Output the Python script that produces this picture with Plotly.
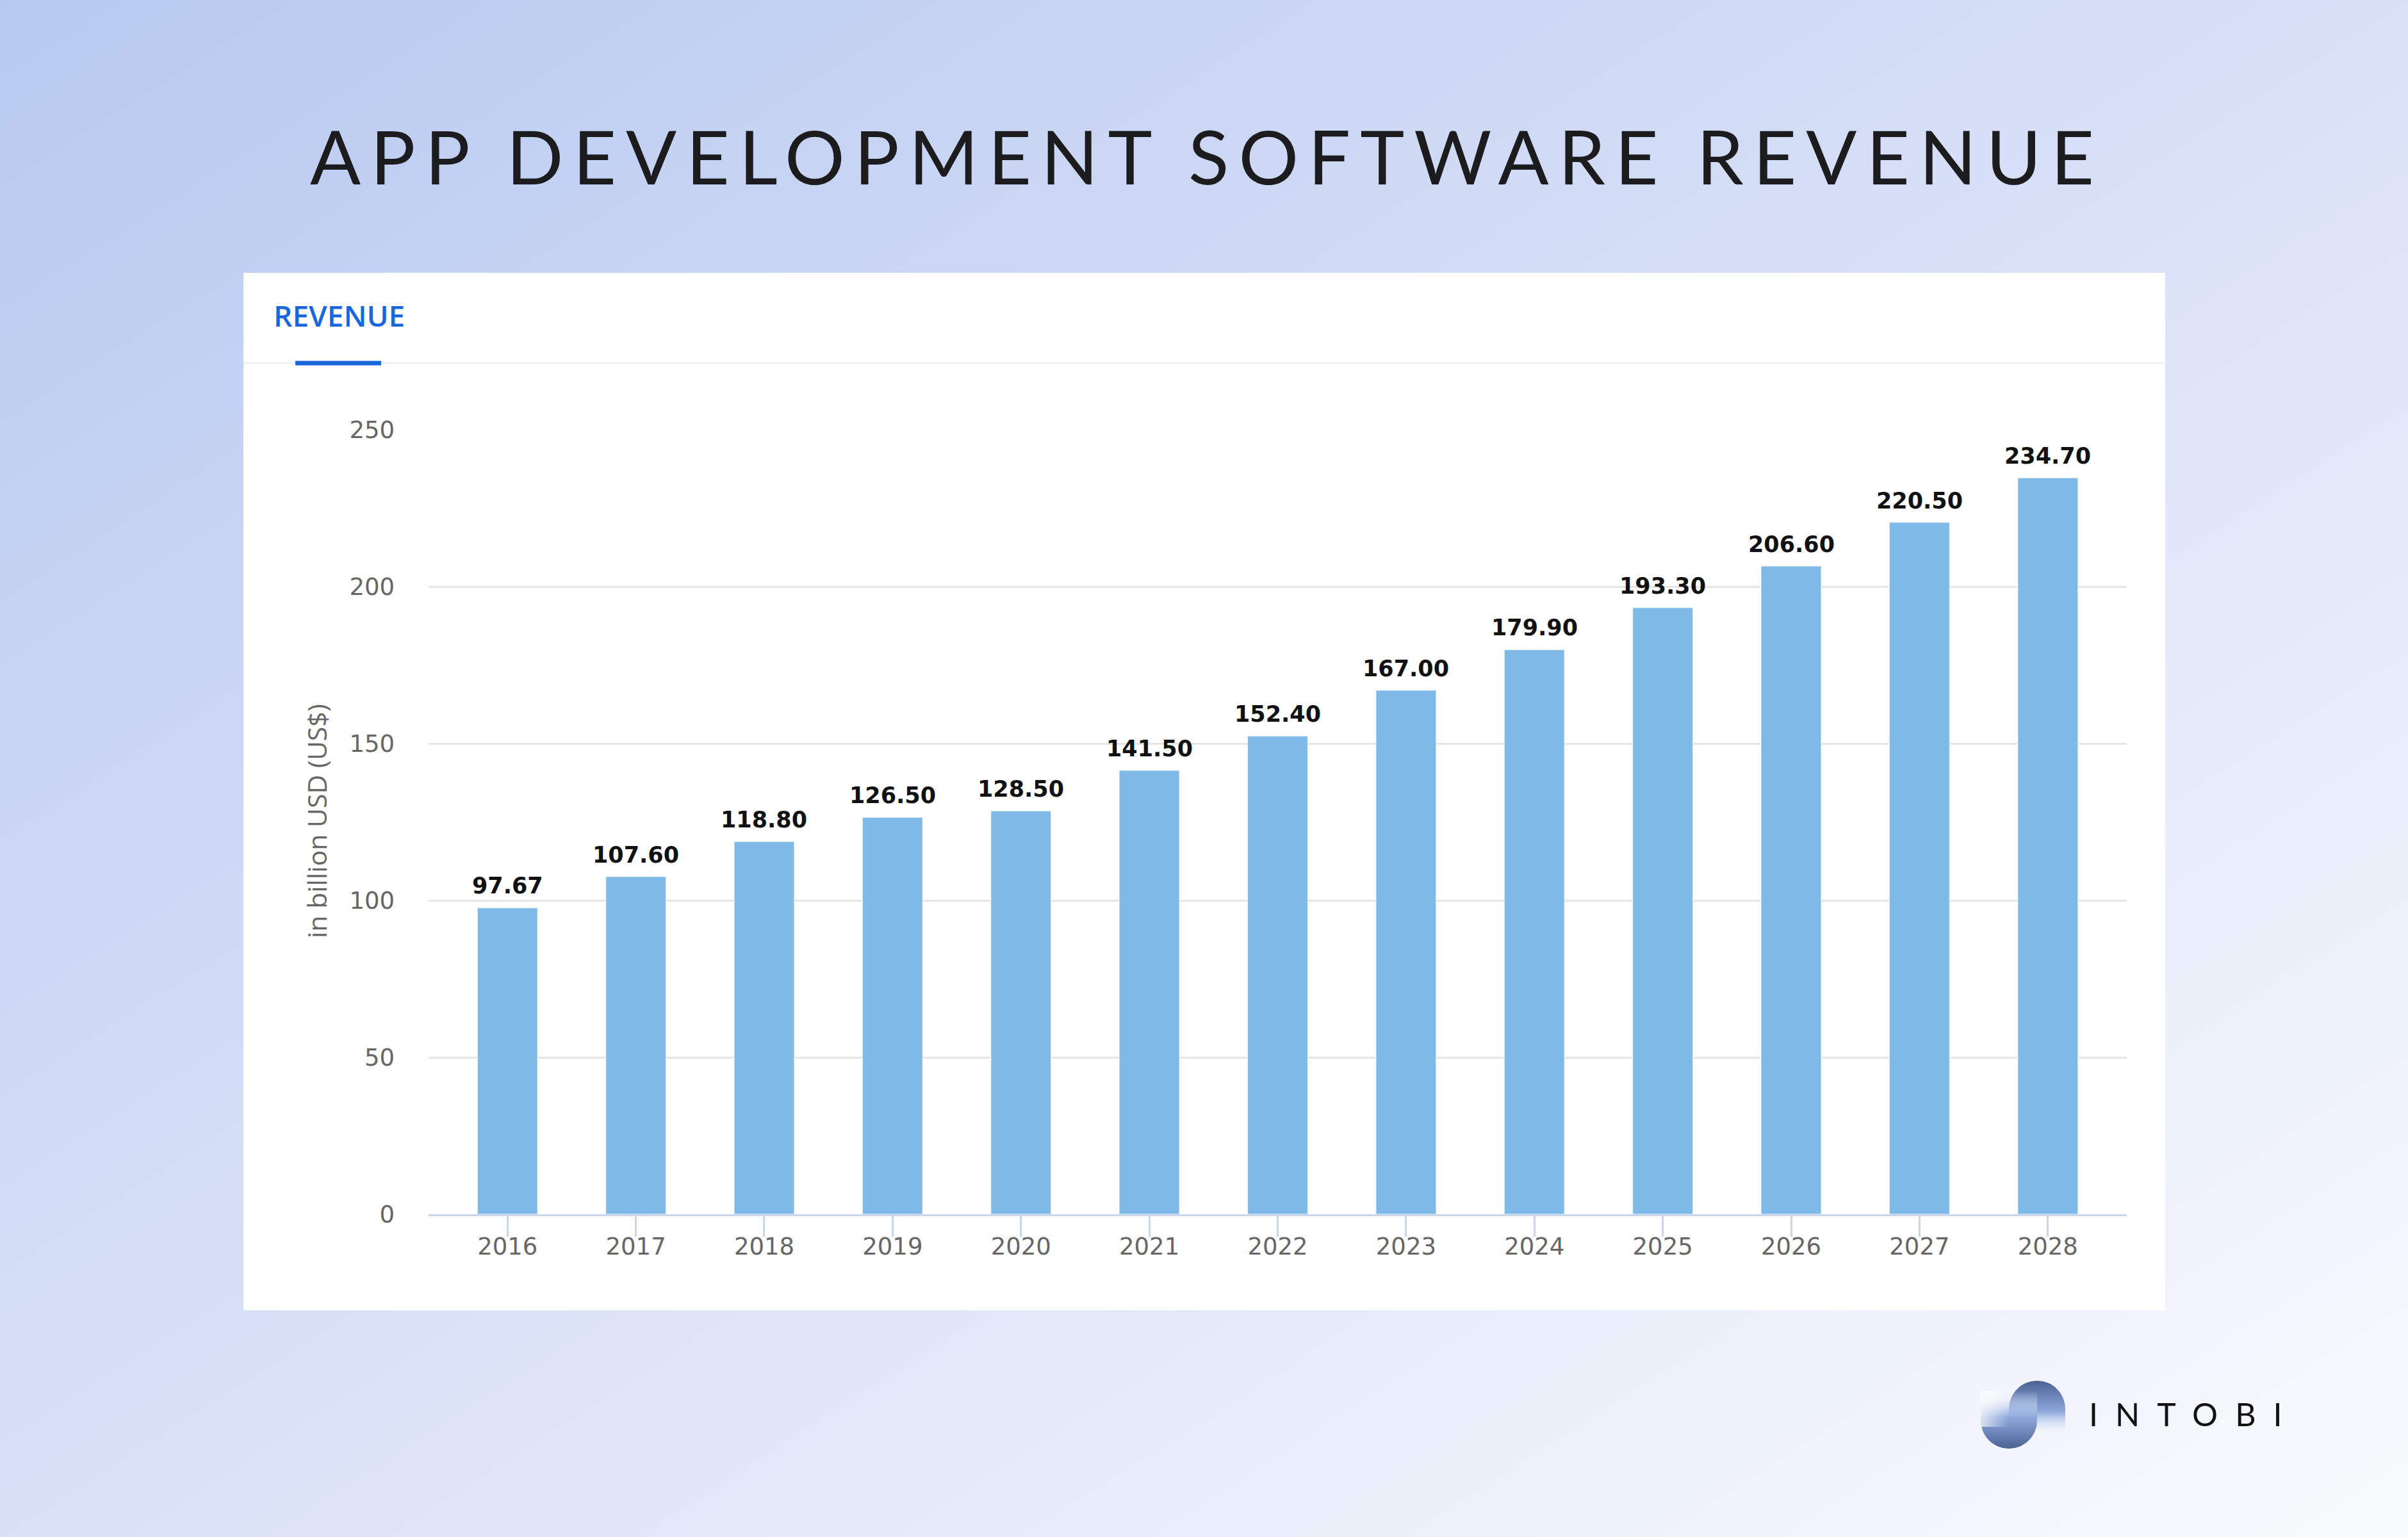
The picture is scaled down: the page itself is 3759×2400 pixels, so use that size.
import base64
import plotly.graph_objects as go

# ---------------- data ----------------
years = ["2016", "2017", "2018", "2019", "2020", "2021", "2022",
         "2023", "2024", "2025", "2026", "2027", "2028"]
revenue = [97.67, 107.60, 118.80, 126.50, 128.50, 141.50, 152.40,
           167.00, 179.90, 193.30, 206.60, 220.50, 234.70]
y_ticks = [0, 50, 100, 150, 200, 250]

title_text = "APP DEVELOPMENT SOFTWARE REVENUE"
tab_text = "REVENUE"
y_title = "in billion USD (US$)"
brand_text = "INTOBI"

# ---------------- geometry helpers ----------------
W, H = 3759, 2400


def fx(p):
    return p / W


def fy(p):
    return 1 - p / H


def svg_uri(svg):
    return "data:image/svg+xml;base64," + base64.b64encode(svg.encode("utf-8")).decode("ascii")


bg_svg = (
    "<svg xmlns='http://www.w3.org/2000/svg' width='3759' height='2400' viewBox='0 0 3759 2400' "
    "preserveAspectRatio='none'><defs><linearGradient id='g' x1='0' y1='0' x2='1' y2='1'>"
    "<stop offset='0' stop-color='#B8C9F0'/><stop offset='0.5' stop-color='#D9E1F7'/>"
    "<stop offset='1' stop-color='#FAFBFE'/></linearGradient></defs>"
    "<rect width='3759' height='2400' fill='url(#g)'/></svg>"
)

logo_svg = (
    "<svg xmlns='http://www.w3.org/2000/svg' width='132' height='106' viewBox='0 0 132 106'>"
    "<defs>"
    "<linearGradient id='r' x1='0' y1='0' x2='0' y2='1'>"
    "<stop offset='0' stop-color='#4B6193'/><stop offset='0.55' stop-color='#8FA9DD'/>"
    "<stop offset='1' stop-color='#FFFFFF' stop-opacity='0'/></linearGradient>"
    "<linearGradient id='l' x1='0' y1='0' x2='0' y2='1'>"
    "<stop offset='0' stop-color='#FFFFFF' stop-opacity='0'/><stop offset='0.45' stop-color='#8FA9DD'/>"
    "<stop offset='1' stop-color='#4B6193'/></linearGradient>"
    "<linearGradient id='h' x1='0' y1='0' x2='1' y2='0'>"
    "<stop offset='0' stop-color='#FFFFFF' stop-opacity='0.7'/>"
    "<stop offset='1' stop-color='#FFFFFF' stop-opacity='0'/></linearGradient>"
    "</defs>"
    "<path d='M44 88 L44 44 A44 44 0 0 1 132 44 L132 88 Z' fill='url(#r)'/>"
    "<path d='M0 16 L88 16 L88 62 A44 44 0 0 1 0 62 Z' fill='url(#l)'/>"
    "<path d='M0 16 L44 16 L44 72 L0 72 Z' fill='url(#h)'/>"
    "</svg>"
)

# ---------------- figure ----------------
fig = go.Figure()
fig.add_trace(go.Bar(
    x=years, y=revenue, width=0.47,
    marker=dict(color="#7EB9E8", line=dict(color="rgba(255,255,255,0.7)", width=1.5)),
    hoverinfo="skip",
))

annotations = []
# value labels: x given as the category's serial number on the category axis
for i, v in enumerate(revenue):
    annotations.append(dict(
        x=i, y=v, xref="x", yref="y", text=f"{v:.2f}", showarrow=False,
        xanchor="center", yanchor="bottom", yshift=12,
        font=dict(family="DejaVu Sans", size=35, color="#111111", weight="bold"),
    ))

annotations += [
    dict(x=fx(1884), y=fy(243), xref="paper", yref="paper", text=title_text, showarrow=False,
         xanchor="center", yanchor="middle",
         font=dict(family="Lato", size=117, color="#1c1c1f")),
    dict(x=fx(425), y=fy(492), xref="paper", yref="paper", text=tab_text, showarrow=False,
         xanchor="left", yanchor="middle",
         font=dict(family="Open Sans", size=46, color="#1a66df", weight=600)),
    dict(x=fx(494), y=fy(1282), xref="paper", yref="paper", text=y_title, showarrow=False,
         xanchor="center", yanchor="middle", textangle=-90,
         font=dict(family="Open Sans", size=41, color="#666666")),
    dict(x=fx(3425), y=fy(2208), xref="paper", yref="paper", text=brand_text, showarrow=False,
         xanchor="center", yanchor="middle",
         font=dict(family="Lato", size=50, color="#111111")),
]

shapes = [
    dict(type="rect", xref="paper", yref="paper", x0=fx(380), x1=fx(3380), y0=fy(2046), y1=fy(426),
         fillcolor="#FFFFFF", line=dict(width=0), layer="below"),
    dict(type="line", xref="paper", yref="paper", x0=fx(380), x1=fx(3380), y0=fy(567), y1=fy(567),
         line=dict(color="#EEF0F4", width=3), layer="below"),
    dict(type="line", xref="paper", yref="paper", x0=fx(461), x1=fx(595), y0=fy(567), y1=fy(567),
         line=dict(color="#1a66df", width=7), layer="above"),
]

images = [
    dict(source=svg_uri(bg_svg), xref="paper", yref="paper", x=0, y=1, sizex=1, sizey=1,
         xanchor="left", yanchor="top", sizing="stretch", layer="below"),
    dict(source=svg_uri(logo_svg), xref="paper", yref="paper", x=fx(3092), y=fy(2156),
         sizex=132 / W, sizey=106 / H, xanchor="left", yanchor="top", sizing="stretch", layer="above"),
]

tick_font = dict(family="DejaVu Sans", size=37, color="#666666")

fig.update_layout(
    width=W, height=H,
    margin=dict(l=0, r=0, t=0, b=0),
    paper_bgcolor="#DAE2F7",
    plot_bgcolor="rgba(0,0,0,0)",
    showlegend=False,
    annotations=annotations,
    shapes=shapes,
    images=images,
    xaxis=dict(
        domain=[fx(669), fx(3320)], type="category", range=[-0.615, 12.615],
        showline=True, linecolor="#CCD6EB", linewidth=3,
        ticks="outside", ticklen=32, tickwidth=3, tickcolor="#CCD6EB",
        ticklabelstandoff=-16,
        tickfont=tick_font, showgrid=False, zeroline=False, automargin=False, fixedrange=True,
    ),
    yaxis=dict(
        domain=[fy(1896), fy(671)], range=[0, 250], tickvals=y_ticks,
        showgrid=True, gridcolor="#E6E6E6", gridwidth=3,
        zeroline=False, showline=False, ticks="", ticklabelstandoff=52,
        tickfont=tick_font, automargin=False, fixedrange=True,
    ),
)

post = (
    "document.body.style.margin='0';"
    "document.body.style.overflow='hidden';"
    "var s=document.createElement('style');"
    "s.textContent='body{margin:0}text.annotation-text[data-unformatted=\"" + title_text + "\"]{letter-spacing:15px}"
    "text.annotation-text[data-unformatted=\"" + brand_text + "\"]{letter-spacing:27px}';"
    "document.head.appendChild(s);"
)

fig.write_html("out.html", post_script=post, config={"displayModeBar": False})
